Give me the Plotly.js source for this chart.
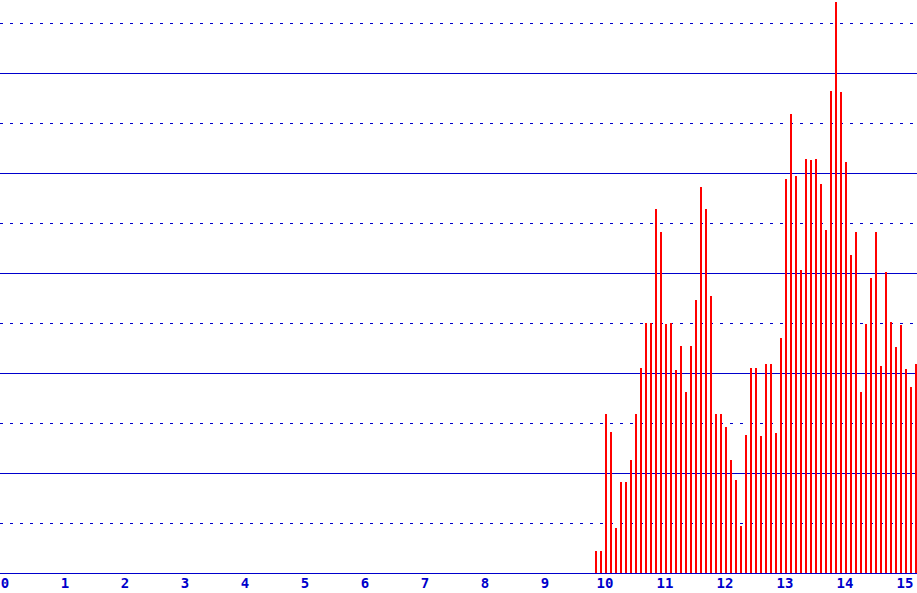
<!DOCTYPE html>
<html>
<head>
<meta charset="utf-8">
<script src="https://cdn.plot.ly/plotly-3.0.1.min.js"></script>
<style>
html, body { margin: 0; padding: 0; background: #ffffff; }
#chart { width: 917px; height: 593px; }
</style>
</head>
<body>
<div id="chart"></div>
<script>
// Bin positions (x axis units)
const binX = [
  9.933, 10.017, 10.1, 10.183, 10.267, 10.35, 10.433, 10.517, 10.6, 10.683, 10.767, 10.85, 10.933,
  11.017, 11.1, 11.183, 11.267, 11.35, 11.433, 11.517, 11.6, 11.683, 11.767, 11.85, 11.933, 12.017,
  12.1, 12.183, 12.267, 12.35, 12.433, 12.517, 12.6, 12.683, 12.767, 12.85, 12.933, 13.017, 13.1,
  13.183, 13.267, 13.35, 13.433, 13.517, 13.6, 13.683, 13.767, 13.85, 13.933, 14.017, 14.1, 14.183,
  14.267, 14.35, 14.433, 14.517, 14.6, 14.683, 14.767, 14.85, 14.933, 15.017, 15.1, 15.183, 15.267
];
// Bar heights
const binY = [
  4.4, 4.4, 31.8, 28.2, 9, 18.2, 18.2, 22.6, 31.8, 41, 50, 50, 72.8,
  68.2, 49.8, 50, 40.6, 45.4, 36.2, 45.4, 54.6, 77.2, 72.8, 55.4, 31.8, 31.8,
  29.2, 22.6, 18.6, 9.4, 27.6, 41, 41, 27.4, 41.8, 41.8, 28, 47, 78.8,
  91.8, 79.4, 60.6, 82.8, 82.6, 82.8, 77.8, 68.6, 96.4, 114.2, 96.2, 82.2, 63.6,
  68.2, 36.2, 49.8, 59, 68.2, 41.4, 60.2, 50.2, 45.2, 49.6, 40.8, 37.2, 41.8
];
// Tick labels
const tickVals = [0, 1, 2, 3, 4, 5, 6, 7, 8, 9, 10, 11, 12, 13, 14, 15];
const tickText = ["0","1","2","3","4","5","6","7","8","9","10","11","12","13","14","15"];

const blue = '#0000cc';

const trace = {
  type: 'bar',
  x: binX,
  y: binY,
  width: binX.map(() => 0.04),
  marker: { color: '#ff0000', line: { width: 0 } },
  hoverinfo: 'skip'
};

const layout = {
  width: 917,
  height: 593,
  autosize: false,
  margin: { l: 0, r: 0, t: 0, b: 20, pad: 0 },
  paper_bgcolor: '#ffffff',
  plot_bgcolor: '#ffffff',
  showlegend: false,
  bargap: 0,
  xaxis: {
    range: [0, 15.283],
    tickmode: 'array',
    tickvals: tickVals,
    ticktext: tickText,
    ticks: '',
    showgrid: false,
    zeroline: false,
    showline: true,
    linecolor: blue,
    linewidth: 1,
    ticklabelshift: 5,
    ticklabelstandoff: -3,
    tickfont: { family: 'DejaVu Sans Mono', size: 14, color: blue, weight: 'bold' },
    fixedrange: true
  },
  yaxis: {
    range: [0, 114.6],
    tick0: 0,
    dtick: 20,
    showticklabels: false,
    ticks: '',
    showgrid: true,
    gridcolor: blue,
    gridwidth: 1,
    zeroline: false,
    showline: false,
    minor: {
      tick0: 0,
      dtick: 10,
      showgrid: true,
      gridcolor: blue,
      gridwidth: 1,
      griddash: '3px,7px',
      ticks: ''
    },
    fixedrange: true
  }
};

Plotly.newPlot('chart', [trace], layout, { displayModeBar: false, staticPlot: true });
</script>
</body>
</html>
